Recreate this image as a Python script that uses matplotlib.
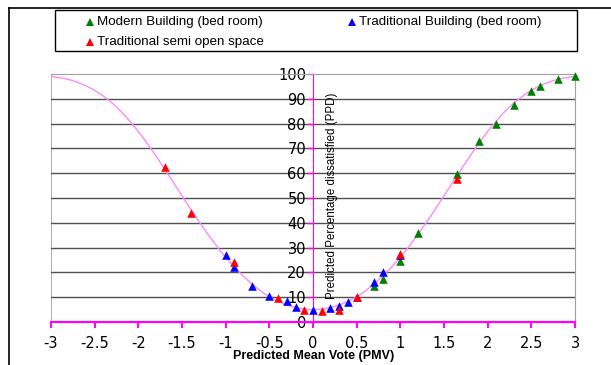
import matplotlib
matplotlib.use("Agg")
import matplotlib.pyplot as plt
import numpy as np
from matplotlib.lines import Line2D
from matplotlib.patches import PathPatch, Rectangle
from matplotlib.path import Path

plt.rcParams["font.family"] = ["Liberation Sans", "DejaVu Sans"]

# ── Data ─────────────────────────────────────────────────────────────────────
curve_pmv = [-3.0, -2.75, -2.5, -2.25, -2.0, -1.75, -1.5, -1.25, -1.0, -0.75,
             -0.5, -0.25, 0.0, 0.25, 0.5, 0.75, 1.0, 1.25, 1.5, 1.75,
             2.0, 2.25, 2.5, 2.75, 3.0]
curve_ppd = [99.1, 97.3, 93.4, 86.7, 76.8, 64.4, 50.9, 37.7, 26.1, 16.9,
             10.2, 6.3, 5.0, 6.3, 10.2, 16.9, 26.1, 37.7, 50.9, 64.4,
             76.8, 86.7, 93.4, 97.3, 99.1]

modern_pmv = [0.7, 0.8, 1.0, 1.2, 1.65, 1.9, 2.1, 2.3, 2.5, 2.6, 2.8, 3.0]
modern_ppd = [14.5, 17.5, 24.5, 36, 59.5, 73, 80, 87.5, 93, 95.3, 97.8, 99.2]

trad_pmv = [-1.0, -0.9, -0.7, -0.5, -0.3, -0.2, 0.0, 0.2, 0.3, 0.4, 0.5,
            0.7, 0.8, 1.0]
trad_ppd = [27, 22, 14.5, 10.5, 8.5, 6, 5, 5.5, 6.5, 8, 10, 16, 20, 27]

semi_pmv = [-1.7, -1.4, -0.9, -0.4, -0.1, 0.1, 0.3, 0.5, 1.0, 1.65]
semi_ppd = [62.5, 44, 24, 9.7, 4.8, 4.5, 4.7, 10, 27.5, 57.5]

x_ticks = [-3, -2.5, -2, -1.5, -1, -0.5, 0, 0.5, 1, 1.5, 2, 2.5, 3]
x_ticklabels = ["-3", "-2.5", "-2", "-1.5", "-1", "-0.5", "0", "0.5", "1",
                "1.5", "2", "2.5", "3"]
y_ticks = [0, 10, 20, 30, 40, 50, 60, 70, 80, 90, 100]

series = [
    ("Modern Building (bed room)", modern_pmv, modern_ppd, "#008000"),
    ("Traditional Building (bed room)", trad_pmv, trad_ppd, "#0000FF"),
    ("Traditional semi open space", semi_pmv, semi_ppd, "#FF0000"),
]

MAGENTA = "#FF00FF"
W, H = 611, 365


def smooth_path(xs, ys):
    """Excel-style smoothed line: Catmull-Rom segments as cubic Beziers."""
    pts = np.column_stack([xs, ys])
    verts = [pts[0]]
    codes = [Path.MOVETO]
    n = len(pts)
    for i in range(n - 1):
        p0 = pts[max(i - 1, 0)]
        p1, p2 = pts[i], pts[i + 1]
        p3 = pts[min(i + 2, n - 1)]
        verts += [p1 + (p2 - p0) / 6, p2 - (p3 - p1) / 6, p2]
        codes += [Path.CURVE4] * 3
    return Path(verts, codes)


fig = plt.figure(figsize=(W / 100, H / 100), dpi=100)
ax = fig.add_axes([51 / W, 1 - 322 / H, 524 / W, 248 / H])

ax.set_xlim(-3, 3)
ax.set_ylim(0, 100)

# plot-area frame: grey top/right/left, magenta axes through the origin
ax.spines["top"].set_color("#A0A0A0")
ax.spines["right"].set_color("#A0A0A0")
ax.spines["left"].set_position(("data", 0))
ax.spines["left"].set_color(MAGENTA)
ax.spines["bottom"].set_color(MAGENTA)
ax.spines["bottom"].set_linewidth(1.6)
ax.axvline(-3, color="#A0A0A0", lw=1.2, zorder=1)

for y in y_ticks[1:-1]:
    ax.axhline(y, color="#505050", lw=1.0, zorder=1)

ax.add_patch(PathPatch(smooth_path(curve_pmv, curve_ppd), fill=False,
                       edgecolor="#FF88FF", lw=1.0, zorder=2))

for label, xs, ys, col in series:
    ax.scatter(xs, ys, marker="^", s=38, color=col, linewidths=0,
               zorder=3, clip_on=False)

ax.set_xticks(x_ticks)
ax.set_xticklabels(x_ticklabels)
ax.set_yticks(y_ticks)
ax.tick_params(axis="x", colors=MAGENTA, direction="out", length=4, width=1.4,
               pad=6, labelcolor="black", labelsize=10.5)
ax.tick_params(axis="y", colors=MAGENTA, direction="out", length=4, width=1.0,
               pad=1, labelcolor="black", labelsize=10.5)
for t in ax.get_xticklabels() + ax.get_yticklabels():
    t.set_family("DejaVu Sans")

ax.text(0.22, 51, "Predicted Percentage dissatisfied (PPD)", rotation=90,
        ha="center", va="center", fontsize=8.3, zorder=4)
fig.text(314 / W, 1 - 356 / H, "Predicted Mean Vote (PMV)", ha="center",
         va="center", fontsize=9, fontweight="bold")

# ── Legend box ───────────────────────────────────────────────────────────────
fig.add_artist(Rectangle((55 / W, 1 - 51 / H), 522 / W, 41 / H,
                         transform=fig.transFigure, fill=False,
                         edgecolor="black", lw=1.0))
legend_pos = [(90, 22), (352, 22), (90, 42)]
for (label, _, _, col), (px, py) in zip(series, legend_pos):
    fig.add_artist(Line2D([px / W], [1 - py / H], transform=fig.transFigure,
                          marker="^", markersize=6, color=col, ls="none",
                          markeredgewidth=0))
    fig.text((px + 7) / W, 1 - py / H, label, ha="left", va="center",
             fontsize=9.6)

# outer chart-area border (left and top edges are visible)
fig.add_artist(Line2D([9 / W, 9 / W], [0, 1 - 8 / H], transform=fig.transFigure,
                      color="black", lw=1.2))
fig.add_artist(Line2D([9 / W, 1], [1 - 8 / H, 1 - 8 / H],
                      transform=fig.transFigure, color="black", lw=1.2))

fig.savefig("out.png", dpi=100)
